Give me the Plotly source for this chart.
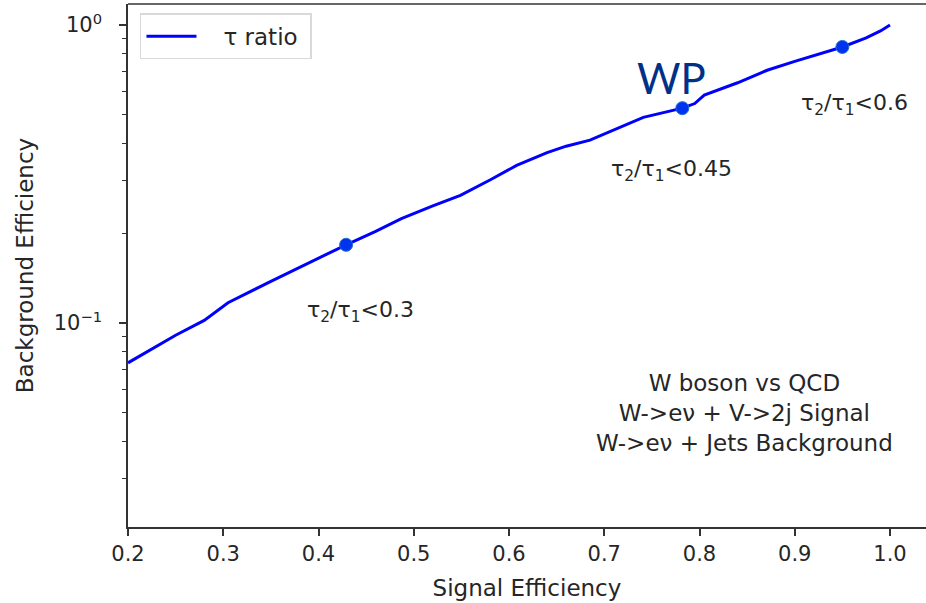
import plotly.graph_objects as go
import math

# ROC-like curve data
sig_eff = [0.200, 0.225, 0.250, 0.280, 0.305, 0.350, 0.400, 0.429, 0.460, 0.487,
           0.520, 0.549, 0.580, 0.608, 0.640, 0.660, 0.685, 0.710, 0.741, 0.782,
           0.795, 0.805, 0.840, 0.871, 0.900, 0.950, 0.975, 0.990, 1.000]
bkg_eff = [0.0735, 0.082, 0.091, 0.102, 0.117, 0.138, 0.165, 0.183, 0.203, 0.224,
           0.247, 0.268, 0.302, 0.338, 0.373, 0.392, 0.411, 0.445, 0.490, 0.526,
           0.545, 0.582, 0.640, 0.705, 0.755, 0.844, 0.905, 0.955, 1.000]

# working points
wp_x = [0.429, 0.782, 0.950]
wp_y = [0.183, 0.526, 0.844]
wp_labels = ["τ<sub>2</sub>/τ<sub>1</sub><0.3", "τ<sub>2</sub>/τ<sub>1</sub><0.45", "τ<sub>2</sub>/τ<sub>1</sub><0.6"]
wp_label_x = [0.4436, 0.771, 0.963]
wp_label_y = [0.1096, 0.326, 0.539]

x_ticks = [0.2, 0.3, 0.4, 0.5, 0.6, 0.7, 0.8, 0.9, 1.0]
x_ticktext = ["0.2", "0.3", "0.4", "0.5", "0.6", "0.7", "0.8", "0.9", "1.0"]
y_ticks = [0.1, 1.0]
y_ticktext = ["10<sup>−1</sup>", "10<sup>0</sup>"]
y_minor = [0.03, 0.04, 0.05, 0.06, 0.07, 0.08, 0.09, 0.2, 0.3, 0.4, 0.5, 0.6, 0.7, 0.8, 0.9]

FONT = "DejaVu Sans"
TXT = "#262626"

fig = go.Figure()
fig.add_trace(go.Scatter(x=sig_eff, y=bkg_eff, mode="lines", name="\u00a0\u00a0\u00a0τ ratio\u00a0",
                         line=dict(color="#0000ff", width=3)))
fig.add_trace(go.Scatter(x=wp_x, y=wp_y, mode="markers", showlegend=False,
                         marker=dict(color="#0033ee", size=13,
                                     line=dict(color="#1f6fd0", width=1))))

for tx, ty, tt in zip(wp_label_x, wp_label_y, wp_labels):
    fig.add_annotation(x=tx, y=math.log10(ty), text=tt, showarrow=False,
                       font=dict(family=FONT, size=22, color=TXT),
                       xanchor="center", yanchor="middle")

fig.add_annotation(x=0.771, y=math.log10(0.665), text="WP", showarrow=False,
                   font=dict(family="Lato", size=42, color="#003087"),
                   xanchor="center", yanchor="middle")

fig.add_annotation(x=0.847, y=math.log10(0.0499),
                   text="W boson vs QCD<br>W->eν + V->2j Signal<br>W->eν + Jets Background",
                   showarrow=False, align="center",
                   font=dict(family=FONT, size=23, color=TXT),
                   xanchor="center", yanchor="middle")

# top spine
fig.add_shape(type="line", xref="paper", yref="paper", x0=0, x1=1, y0=1, y1=1,
              line=dict(color="#333333", width=1.5))

fig.update_layout(
    width=926, height=603,
    margin=dict(l=128, r=0, t=4, b=76),
    plot_bgcolor="white", paper_bgcolor="white",
    font=dict(family=FONT, size=21, color=TXT),
    showlegend=True,
    legend=dict(x=0.015, y=0.982, xanchor="left", yanchor="top",
                bgcolor="white", bordercolor="#d9d9d9", borderwidth=1.5,
                font=dict(family=FONT, size=23, color=TXT), itemwidth=50),
)
fig.update_xaxes(range=[0.2, 1.0378], tickvals=x_ticks, ticktext=x_ticktext,
                 ticks="outside", ticklen=7, tickwidth=1.5, tickcolor="#333333",
                 tickfont=dict(size=21),
                 showline=True, linecolor="#333333", linewidth=1.5, mirror=False,
                 showgrid=False, zeroline=False,
                 title=dict(text="Signal Efficiency", font=dict(size=23), standoff=15))
fig.update_yaxes(type="log", range=[-1.6846, 0.0705], tickvals=y_ticks, ticktext=y_ticktext,
                 ticks="outside", ticklen=7, tickwidth=1.5, tickcolor="#333333",
                 tickfont=dict(size=21), ticklabelstandoff=13,
                 minor=dict(tickvals=y_minor, ticks="outside", ticklen=4, tickcolor="#333333", tickwidth=1.2),
                 showline=True, linecolor="#333333", linewidth=1.5, mirror=False,
                 showgrid=False, zeroline=False,
                 title=dict(text="Background Efficiency", font=dict(size=23), standoff=14))

fig.write_html("out.html")
